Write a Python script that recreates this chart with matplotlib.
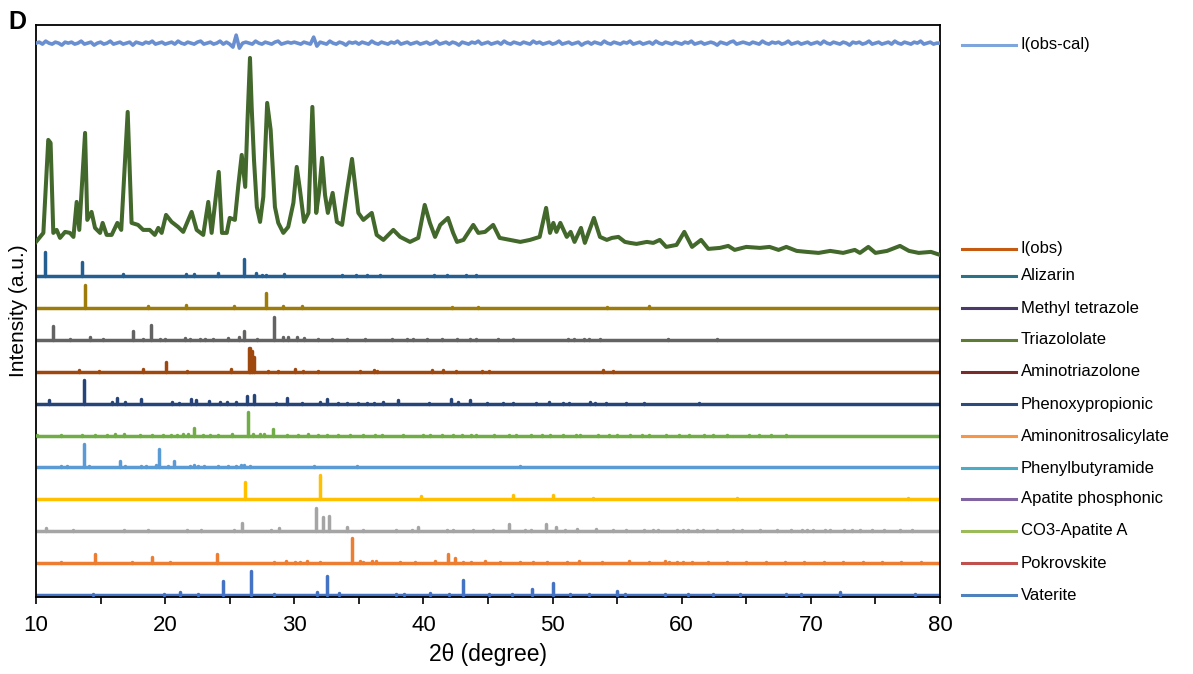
import numpy as np
import matplotlib
matplotlib.use("Agg")
import matplotlib.pyplot as plt
from matplotlib.lines import Line2D

plt.rcParams['font.family'] = ['Liberation Sans', 'DejaVu Sans']

# observed pattern (2theta, intensity a.u.)
obs_tt = [10.0, 10.57, 10.95, 11.13, 11.34, 11.6, 11.86, 12.25, 12.63, 12.9, 13.15, 13.35, 13.8, 13.97,
          14.3, 14.57, 14.96, 15.16, 15.47, 15.86, 16.3, 16.6, 17.1, 17.4, 17.9, 18.3, 18.8, 19.2, 19.47,
          19.73, 20.07, 20.5, 21.0, 21.4, 22.05, 22.44, 22.95, 23.34, 23.6, 24.15, 24.4, 24.77, 25.0, 25.4,
          25.67, 25.93, 26.2, 26.37, 26.57, 26.7, 26.88, 27.1, 27.35, 27.6, 27.9, 28.17, 28.5, 28.76, 29.15,
          29.53, 29.93, 30.19, 30.44, 30.75, 31.1, 31.4, 31.7, 31.94, 32.15, 32.38, 32.6, 32.97, 33.3, 33.7,
          34.06, 34.47, 34.96, 35.35, 36.0, 36.38, 36.9, 37.67, 38.2, 38.96, 39.6, 40.1, 40.5, 40.9, 41.3,
          41.9, 42.3, 42.6, 43.1, 43.86, 44.25, 44.77, 45.4, 45.9, 46.7, 47.5, 48.25, 49.0, 49.5, 49.8,
          50.06, 50.3, 50.6, 51.1, 51.4, 51.7, 52.2, 52.5, 53.2, 53.67, 54.2, 54.6, 55.1, 55.6, 56.0, 56.5,
          57.3, 57.8, 58.3, 58.8, 59.6, 60.2, 60.8, 61.5, 62.06, 62.96, 63.6, 64.1, 65.0, 66.06, 66.8, 67.5,
          68.1, 68.9, 69.7, 70.6, 71.5, 72.5, 73.4, 73.8, 74.45, 75.0, 75.9, 76.9, 77.6, 78.35, 79.3, 80.0]
obs_int = [14, 23, 116, 113, 23, 26, 18, 24, 23, 19, 54, 26, 123, 36,
           44, 28, 23, 33, 21, 21, 33, 26, 144, 33, 31, 26, 26, 21, 28,
           23, 41, 34, 29, 24, 44, 26, 21, 54, 23, 84, 23, 23, 38, 36,
           71, 101, 69, 133, 198, 149, 96, 49, 34, 59, 153, 126, 49, 33, 23,
           29, 53, 89, 66, 34, 43, 149, 43, 66, 98, 61, 43, 63, 34, 31,
           63, 97, 43, 36, 43, 21, 16, 26, 19, 14, 18, 51, 33, 19, 31,
           38, 23, 14, 16, 31, 23, 24, 31, 18, 16, 14, 16, 19, 48, 23,
           33, 24, 33, 19, 24, 14, 28, 13, 38, 19, 16, 18, 19, 14, 13, 12,
           14, 13, 16, 9, 11, 24, 9, 16, 7, 8, 10, 6, 9, 8, 9, 6,
           9, 5, 4, 3, 5, 3, 6, 3, 9, 3, 5, 10, 5, 3, 4, 1]

# difference curve I(obs-cal), 0.25 deg steps from 10 to 80
diff_int = [0, 1, -1, 2, 0, -1, 1, 0, -2, 1, 0, 1, -1, 0, 2, -1, 0, 1, -2, 0,
            1, -1, 0, 2, -1, 0, 1, -1, 0, 1, -2, 1, 0, -1, 1, 0, 2, -1, 0, 1,
            -1, 0, 1, -1, 2, 0, -1, 1, 0, -1, 1, 2, -1, 0, 1, -1, 0, 2, -1, 1,
            -1, -4, 8, -5, 0, 1, 0, -1, 2, 0, -1, 1, 0, -1, 1, 2, -1, 0, 1, 0,
            1, 0, -1, 1, 0, -1, 6, -3, 1, 0, -1, 2, 0, -1, 1, 0, -2, 1, 0, 1,
            -1, 1, 0, -1, 2, 0, -1, 1, 0, -1, 1, 0, 2, -1, 0, 1, -1, 0, 1, -1,
            0, 1, -1, 0, 2, -1, 0, 1, -1, 1, 0, -2, 1, 0, -1, 1, 0, 2, -1, 0,
            1, -1, 0, 1, -1, 2, 0, -1, 1, 0, -1, 1, 0, -1, 2, 0, 1, -1, 0, 1,
            -1, 0, 2, -1, 0, 1, -1, 0, 1, -2, 0, 1, -1, 1, 0, -1, 2, 0, -1, 1,
            0, -1, 1, 0, 2, -1, 0, 1, -1, 0, 1, -1, 2, 0, -1, 1, 0, -1, 1, 0,
            -1, 1, 0, 2, -1, 0, 1, -1, 0, 1, 0, -2, 1, 0, -1, 1, 2, -1, 0, 1,
            0, -1, 1, 0, -1, 2, 0, -1, 1, 0, 1, -1, 0, 2, -1, 0, 1, -1, 0, 1,
            -1, 0, 1, -1, 2, 0, -1, 1, 0, -1, 1, 0, -2, 1, 0, 1, -1, 0, 2, -1,
            0, 1, -1, 0, 1, -1, 2, 0, -1, 1, 0, -1, 1, 0, 2, -1, 0, 1, -1, 0,
            0]
diff_tt = np.arange(len(diff_int)) * 0.25 + 10

# reference stick patterns: (2theta, relative intensity %)
alizarin = [(10.72, 100), (13.6, 59), (16.7, 7), (21.6, 8), (22.2, 8), (24.1, 11), (26.1, 71), (27.0, 11),
            (27.5, 6), (27.8, 6), (29.2, 8), (33.7, 5), (34.8, 5), (35.6, 5), (36.6, 5), (40.8, 5),
            (41.8, 5), (43.3, 5), (44.1, 5)]
methyl_tetrazole = [(13.77, 97), (18.7, 7), (21.6, 11), (25.3, 8), (27.8, 63), (29.15, 7), (30.6, 8),
                    (42.2, 5), (44.2, 5), (54.2, 5), (57.5, 8)]
triazololate = [(11.34, 56), (12.6, 3), (14.2, 11), (15.2, 3), (17.5, 37), (18.3, 3), (18.9, 60), (19.6, 4),
                (20.0, 4), (21.5, 7), (21.9, 4), (22.7, 4), (23.1, 4), (23.7, 4), (24.9, 9), (25.7, 11),
                (26.1, 37), (27.1, 4), (28.4, 97), (29.15, 13), (29.5, 11), (30.2, 11), (30.75, 7), (31.8, 4),
                (32.9, 4), (34.1, 5), (35.5, 4), (37.6, 4), (38.7, 4), (39.2, 4), (40.25, 4), (41.4, 4),
                (42.6, 4), (43.6, 4), (44.1, 4), (45.75, 4), (46.9, 4), (51.2, 4), (51.65, 4), (52.4, 4),
                (52.8, 4), (53.7, 4), (58.9, 5), (62.75, 5)]
aminotriazolone = [(13.3, 7), (14.9, 4), (18.26, 13), (20.04, 40), (21.7, 4), (25.1, 11), (26.5, 99),
                   (26.6, 97), (26.75, 85), (26.85, 60), (28.0, 4), (28.76, 4), (30.06, 13), (30.7, 4),
                   (31.86, 4), (35.1, 4), (36.2, 8), (36.4, 4), (40.7, 7), (41.5, 7), (42.5, 4), (44.5, 5),
                   (45.1, 5), (53.9, 7), (54.7, 5)]
phenoxypropionic = [(11.03, 13), (13.7, 100), (15.9, 8), (16.25, 23), (16.9, 7), (18.16, 20), (20.5, 8),
                    (21.07, 4), (21.98, 20), (22.37, 13), (23.4, 11), (24.25, 7), (24.8, 7), (25.46, 8),
                    (26.34, 32), (26.88, 36), (28.58, 4), (29.4, 25), (30.57, 4), (32.0, 5), (32.5, 20),
                    (33.4, 4), (34.06, 4), (34.9, 4), (35.6, 4), (36.2, 4), (36.9, 7), (38.0, 16), (40.4, 4),
                    (42.1, 20), (42.7, 5), (43.6, 16), (44.9, 4), (46.2, 4), (46.96, 4), (48.7, 4), (49.7, 7),
                    (50.8, 4), (51.3, 4), (52.9, 7), (53.3, 4), (54.1, 4), (55.7, 4), (57.1, 4), (61.3, 4)]
aminonitrosalicylate = [(10.05, 4), (11.9, 3), (13.6, 3), (14.6, 3), (15.5, 3), (16.1, 8), (16.8, 7),
                        (18.05, 3), (18.96, 3), (19.8, 3), (20.45, 3), (20.9, 3), (21.36, 5), (21.8, 7),
                        (22.24, 33), (22.9, 3), (23.5, 3), (24.1, 3), (25.15, 7), (26.4, 100), (26.8, 7),
                        (27.35, 7), (27.65, 8), (28.38, 29), (29.4, 3), (30.3, 3), (31.1, 7), (31.86, 3),
                        (32.56, 3), (33.36, 3), (34.3, 3), (35.3, 3), (36.25, 3), (36.8, 3), (38.45, 3),
                        (40.0, 3), (40.5, 3), (41.4, 3), (42.3, 3), (43.0, 3), (43.7, 3), (44.07, 3), (45.5, 3),
                        (46.6, 3), (47.2, 3), (48.3, 3), (49.2, 3), (49.8, 3), (50.8, 3), (51.8, 3), (52.1, 3),
                        (53.5, 3), (54.4, 3), (55.0, 3), (56.0, 3), (56.9, 3), (57.5, 3), (58.8, 3), (59.8, 3),
                        (60.6, 3), (61.7, 3), (62.45, 3), (63.5, 3), (65.2, 3), (66.0, 3), (66.9, 3), (68.1, 3)]
phenylbutyramide = [(11.9, 4), (12.4, 4), (13.72, 97), (14.1, 4), (15.2, 3), (15.5, 3), (16.5, 28), (16.9, 4),
                    (18.1, 7), (18.5, 5), (19.3, 8), (19.52, 75), (20.25, 4), (20.7, 28), (21.9, 7), (22.2, 8),
                    (22.57, 4), (23.0, 4), (24.1, 4), (24.9, 5), (25.5, 7), (25.9, 8), (26.08, 11), (26.57, 4),
                    (26.96, 3), (27.6, 3), (28.1, 3), (28.6, 3), (28.9, 3), (29.33, 3), (30.3, 3), (30.8, 3),
                    (31.5, 7), (32.5, 3), (33.15, 3), (34.06, 3), (34.84, 7), (35.55, 3), (36.4, 3), (37.0, 3),
                    (37.9, 3), (38.8, 3), (39.5, 3), (40.2, 3), (41.03, 3), (41.8, 3), (42.7, 3), (43.35, 3),
                    (44.1, 3), (44.9, 3), (45.5, 3), (46.2, 3), (46.9, 3), (47.5, 7), (48.4, 3), (49.0, 3),
                    (49.8, 3), (50.6, 3), (51.4, 3), (52.1, 3), (53.0, 3), (53.9, 3), (54.7, 3), (55.6, 3),
                    (56.4, 3), (57.0, 3), (57.9, 3), (58.6, 3), (59.2, 3), (60.0, 3), (61.0, 3), (61.9, 3),
                    (63.1, 3), (63.4, 3), (63.95, 3), (64.6, 3)]
apatite_phosphonic = [(26.16, 73), (31.97, 101), (39.8, 13), (46.9, 16), (50.0, 16), (53.1, 7), (56.4, 3),
                      (64.3, 7), (77.5, 5)]
co3_apatite = [(10.75, 13), (12.9, 3), (16.8, 4), (18.7, 3), (21.7, 3), (22.8, 5), (25.3, 4), (25.93, 35),
               (28.2, 5), (28.8, 13), (31.66, 97), (32.2, 61), (32.7, 65), (34.06, 16), (35.35, 4), (37.9, 3),
               (39.1, 5), (39.56, 16), (41.8, 5), (42.3, 3), (43.86, 4), (45.4, 4), (46.6, 31), (47.9, 7),
               (48.3, 4), (49.5, 29), (50.24, 16), (50.96, 7), (51.9, 8), (53.36, 11), (54.65, 3), (55.66, 4),
               (57.1, 3), (57.75, 3), (58.2, 3), (59.6, 3), (60.1, 3), (60.5, 3), (61.2, 3), (61.67, 3),
               (62.7, 3), (64.0, 7), (64.65, 5), (66.1, 3), (67.35, 3), (68.5, 3), (69.3, 3), (69.7, 3),
               (70.2, 3), (71.1, 3), (71.5, 3), (72.6, 3), (73.2, 3), (73.8, 3), (74.7, 3), (75.7, 3),
               (76.9, 4), (77.8, 3)]
pokrovskite = [(11.9, 3), (14.57, 37), (17.4, 4), (19.0, 24), (20.4, 3), (24.04, 40), (28.4, 4), (29.36, 7),
               (30.05, 4), (30.44, 4), (30.96, 8), (32.0, 3), (34.45, 103), (35.1, 7), (35.35, 5), (36.0, 7),
               (36.3, 8), (38.2, 5), (39.35, 4), (40.9, 7), (41.9, 37), (42.45, 21), (43.1, 4), (43.7, 4),
               (44.77, 8), (45.9, 4), (47.5, 4), (48.5, 4), (49.55, 4), (51.1, 4), (52.07, 8), (53.8, 4),
               (55.94, 7), (57.5, 4), (58.7, 8), (59.0, 5), (59.6, 4), (60.1, 4), (60.8, 4), (62.0, 3),
               (63.5, 3), (65.0, 3), (66.5, 3), (68.0, 3), (69.5, 3), (71.0, 3), (72.5, 3), (74.0, 3),
               (75.5, 3), (77.0, 3), (78.5, 3)]
vaterite = [(14.44, 3), (19.94, 3), (21.15, 11), (22.57, 4), (24.45, 59), (26.68, 100), (28.4, 4), (31.74, 11),
            (32.53, 80), (33.5, 8), (37.9, 5), (38.5, 4), (40.5, 8), (42.0, 3), (43.04, 63), (45.1, 3),
            (46.84, 3), (48.4, 24), (50.06, 52), (51.35, 3), (52.8, 3), (55.0, 16), (55.6, 5), (58.7, 5),
            (60.5, 3), (62.45, 3), (64.5, 3), (68.1, 3), (69.2, 3), (72.25, 11), (78.1, 3)]

# patterns from top to bottom with their drawn colours
patterns = [alizarin, methyl_tetrazole, triazololate, aminotriazolone, phenoxypropionic,
            aminonitrosalicylate, phenylbutyramide, apatite_phosphonic, co3_apatite, pokrovskite, vaterite]
pattern_colors = ['#255E91', '#9E7C0C', '#636363', '#9E480E', '#264478',
                  '#70AD47', '#5B9BD5', '#FFC000', '#A5A5A5', '#ED7D31', '#4472C4']

# legend labels and swatch colours
legend_labels = ['I(obs)', 'Alizarin', 'Methyl tetrazole', 'Triazololate', 'Aminotriazolone',
                 'Phenoxypropionic', 'Aminonitrosalicylate', 'Phenylbutyramide', 'Apatite phosphonic',
                 'CO3-Apatite A', 'Pokrovskite', 'Vaterite']
legend_colors = ['#C55A11', '#2C7286', '#4A3A6A', '#5E7B36', '#772C2A', '#2E4A7A',
                 '#F79646', '#4BACC6', '#8064A2', '#9BBB59', '#C0504D', '#4F81BD']

px = 31.9           # pixels per unit offset
stick_scale = 0.75 / 100
obs_base = 10.63
diff_base = 17.30

W, H = 1193, 674
fig = plt.figure(figsize=(W / 100, H / 100), dpi=100)
ax = fig.add_axes([36 / W, 1 - 597 / H, (940 - 36) / W, (597 - 25) / H])

lw = 2.5
n = len(patterns)
for k, (pat, col) in enumerate(zip(patterns, pattern_colors)):
    base = n - 1 - k
    tt = [p[0] for p in pat]
    hh = [base + p[1] * stick_scale for p in pat]
    ax.hlines(base, 10, 80, color=col, lw=lw, zorder=2)
    ax.vlines(tt, base, hh, color=col, lw=lw, capstyle='round', zorder=3)

ax.plot(obs_tt, obs_base + np.array(obs_int) / px, color='#43682B', lw=2.9,
        solid_joinstyle='round', zorder=4)
ax.plot(diff_tt, diff_base + np.array(diff_int) / px, color='#6A8FD0', lw=2.6, zorder=4)

ax.set_xlim(10, 80)
ax.set_ylim(-2 / px, 570 / px)
ax.set_xticks(np.arange(10, 81, 10))
ax.set_xticks(np.arange(15, 80, 10), minor=True)
ax.tick_params(axis='x', which='both', direction='out', length=5, width=1.2, labelsize=16, pad=8)
ax.set_yticks([])
for s in ax.spines.values():
    s.set_linewidth(1.3)
ax.set_xlabel('2θ (degree)', fontsize=16.5, labelpad=5)
ax.set_ylabel('Intensity (a.u.)', fontsize=15, labelpad=6)

fig.text(8 / W, 1 - 22 / H, 'D', fontsize=18, fontweight='bold', va='center', ha='left')

# legend drawn by hand
legend_y = [249, 276, 308, 340, 372, 404, 436, 468, 499, 531, 563, 595]
entries = [('I(obs-cal)', '#7EA6DC', 45)] + list(zip(legend_labels, legend_colors, legend_y))
for lab, col, y in entries:
    fig.add_artist(Line2D([962 / W, 1016 / W], [1 - y / H, 1 - y / H], color=col, lw=2.2,
                          transform=fig.transFigure))
    fig.text(1021 / W, 1 - y / H, lab, fontsize=12, va='center', ha='left')

fig.savefig('out.png', dpi=100)
